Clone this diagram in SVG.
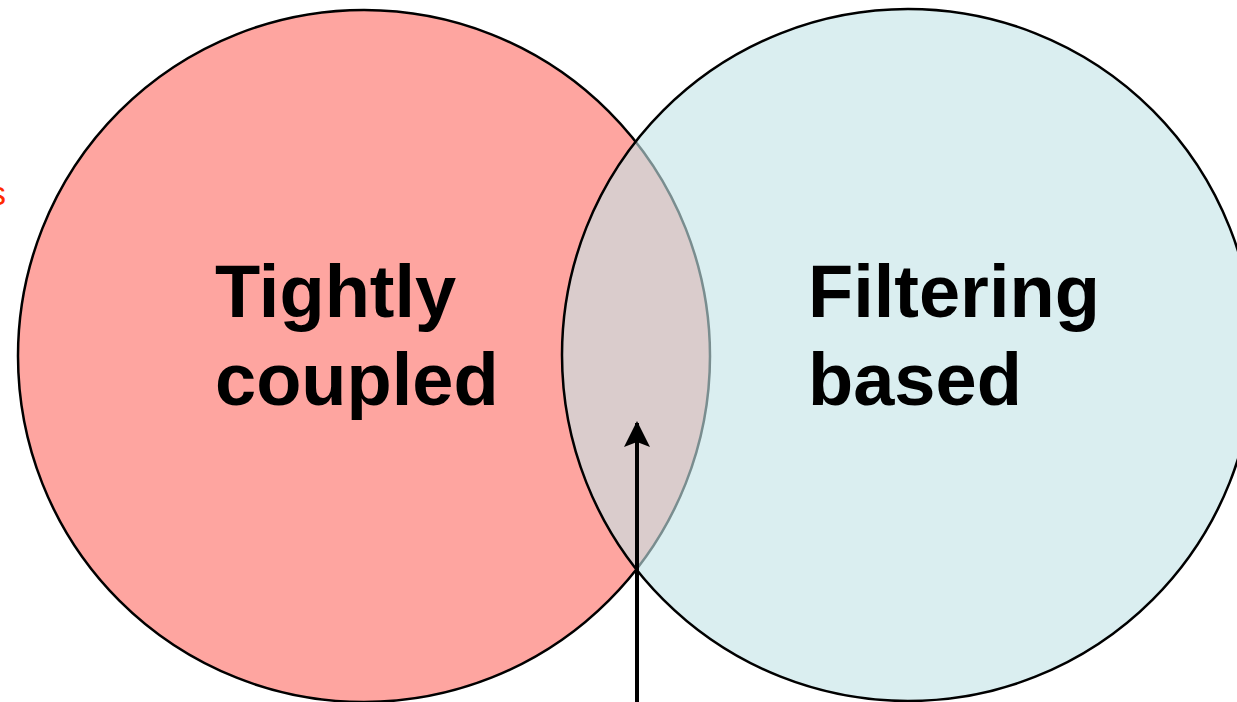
<svg xmlns="http://www.w3.org/2000/svg" width="1237" height="702" viewBox="0 0 1237 702">
  <style>
    .set { stroke: #000; stroke-width: 2.5; }
    .label { font-family: "Liberation Sans", Arial, sans-serif; font-weight: bold; font-size: 74px; fill: #000; }
    .note { font-family: "Liberation Sans", Arial, sans-serif; font-size: 34px; fill: #ff2a00; }
  </style>
  <defs>
    <marker id="head" viewBox="0 0 26 26" refX="24" refY="13" markerWidth="26" markerHeight="26" markerUnits="userSpaceOnUse" orient="auto">
      <path d="M0,0 L26,13 L0,26 L5,13 Z" fill="#000"/>
    </marker>
  </defs>
  <rect width="1237" height="702" fill="#fff"/>

  <text class="note" x="6" y="205" text-anchor="end">s</text>

  <g id="tightly-coupled">
    <circle class="set" cx="364" cy="356" r="346" fill="#fea5a0"/>
    <text class="label" x="215" y="317">Tightly</text>
    <text class="label" x="215" y="405">coupled</text>
  </g>

  <g id="filtering-based">
    <circle class="set" cx="908" cy="355" r="346" fill="rgb(196,227,230)" fill-opacity="0.62"/>
    <text class="label" x="808" y="317">Filtering</text>
    <text class="label" x="808" y="405">based</text>
  </g>

  <g id="connectors">
    <line x1="637" y1="702" x2="637" y2="423" stroke="#000" stroke-width="4" marker-end="url(#head)"/>
  </g>
</svg>
